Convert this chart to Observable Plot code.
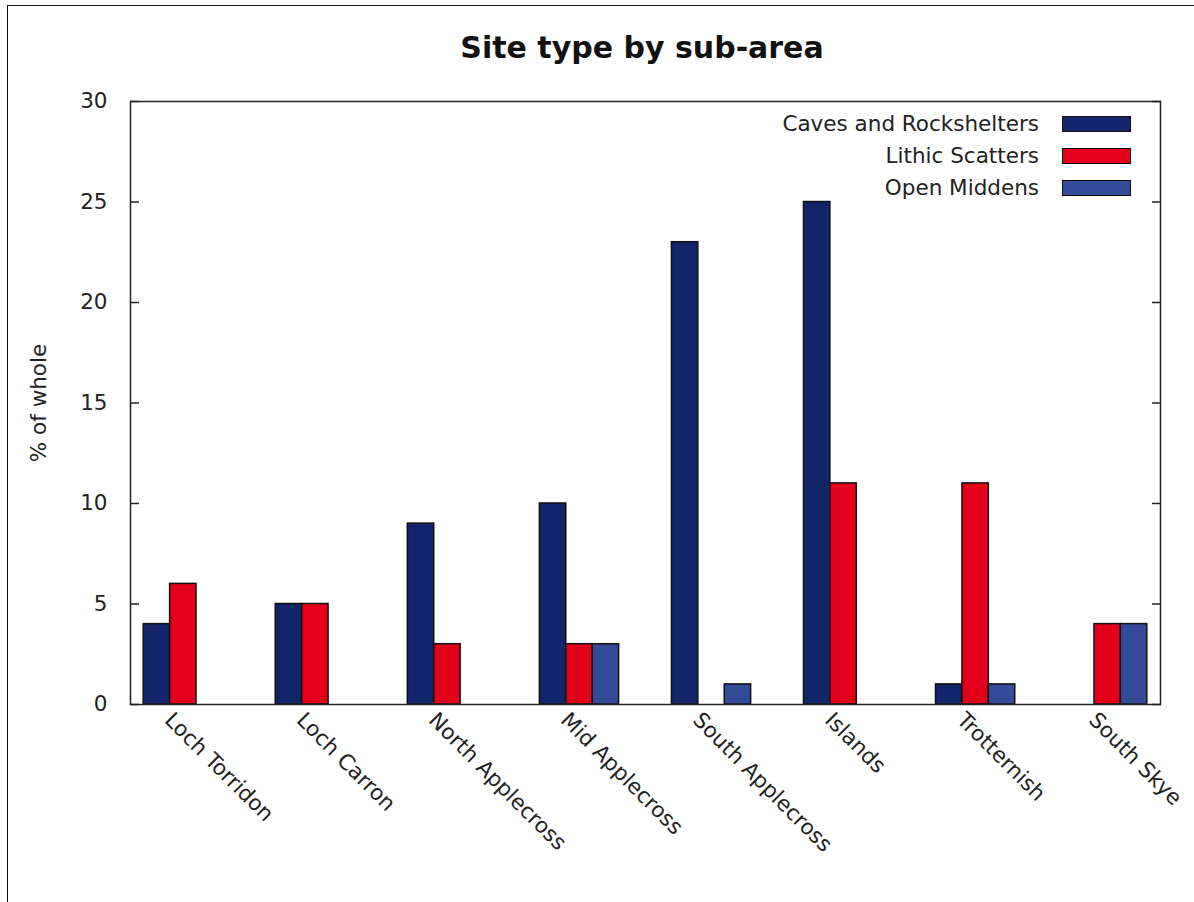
<!DOCTYPE html>
<html>
<head>
<meta charset="utf-8">
<script src="https://cdn.jsdelivr.net/npm/d3@7"></script>
<script src="https://cdn.jsdelivr.net/npm/@observablehq/plot@0.6"></script>
<style>
  html, body { margin: 0; padding: 0; background: #fff; overflow: hidden; }
  body { width: 1194px; height: 902px; position: relative; font-family: "DejaVu Sans", sans-serif; }
  #border { position: absolute; left: 7px; top: 5px; right: 0; bottom: 0; border-left: 1px solid #111; border-top: 1px solid #111; pointer-events: none; }
  #title { width: 1194px; height: 80px; box-sizing: border-box; padding-top: 30px; padding-left: 90px; text-align: center; font-weight: bold; font-size: 30px; line-height: 36px; color: #111; }
  #chart { display: block; }
  .leg-row { position: absolute; height: 32px; line-height: 32px; font-size: 21.5px; color: #222; }
  .leg-text { position: absolute; right: 0; white-space: nowrap; }
  .leg-sw { position: absolute; box-sizing: border-box; border: 1.5px solid #111; }
</style>
</head>
<body>
<div id="border"></div>
<div id="title">Site type by sub-area</div>
<div id="chart"></div>
<script>
// ---- data ----
const categories = ["Loch Torridon", "Loch Carron", "North Applecross", "Mid Applecross", "South Applecross", "Islands", "Trotternish", "South Skye"];
const seriesNames = ["Caves and Rockshelters", "Lithic Scatters", "Open Middens"];
const caves = [4, 5, 9, 10, 23, 25, 1, 0];
const lithic = [6, 5, 3, 3, 0, 11, 11, 4];
const middens = [0, 0, 0, 3, 1, 0, 1, 4];
const yTicks = [0, 5, 10, 15, 20, 25, 30];
const seriesColors = ["#12246a", "#e2001a", "#344b9a"];

const seriesValues = [caves, lithic, middens];
const rows = [];
categories.forEach((c, i) => {
  seriesValues.forEach((vals, s) => {
    rows.push({category: c, index: i, series: seriesNames[s], s, value: vals[i]});
  });
});
const gap = 2;
const barW = 1 / (seriesNames.length + gap);
const mid = (seriesNames.length - 1) / 2;

const plot = Plot.plot({
  width: 1194,
  height: 822,
  marginTop: 21,
  marginBottom: 198,
  marginLeft: 130,
  marginRight: 34,
  style: {fontFamily: "DejaVu Sans, sans-serif", fontSize: "21.5px", color: "#222", background: "transparent", overflow: "visible"},
  x: {domain: [-0.4, categories.length - 0.6], axis: null},
  y: {domain: [0, 30], axis: null},
  color: {domain: seriesNames, range: seriesColors},
  marks: [
    Plot.rectY(rows, {
      filter: d => d.value > 0,
      x1: d => d.index + (d.s - mid) * barW - barW / 2,
      x2: d => d.index + (d.s - mid) * barW + barW / 2,
      y: "value",
      fill: "series",
      stroke: "#111",
      strokeWidth: 1.5
    }),
    Plot.frame({stroke: "#222", strokeWidth: 1.5}),
    Plot.axisY({anchor: "left", ticks: yTicks, tickSize: 0, tickPadding: 23, label: "% of whole", labelArrow: false, labelAnchor: "center", labelOffset: 100, fill: "#222"}),
    Plot.axisY({anchor: "left", ticks: yTicks, tickSize: 9, dx: 9, tickFormat: () => "", label: null, stroke: "#222", strokeWidth: 1.5}),
    Plot.axisY({anchor: "right", ticks: yTicks, tickSize: 9, dx: -9, tickFormat: () => "", label: null, stroke: "#222", strokeWidth: 1.5}),
    Plot.axisX({anchor: "bottom", ticks: categories.map((_, i) => i), tickFormat: i => categories[i], tickSize: 0, tickPadding: 12, tickRotate: 45, dx: -15, label: null, fill: "#222"})
  ]
});
document.getElementById("chart").appendChild(plot);

// legend (inside plot, top right)
seriesNames.forEach((name, i) => {
  const row = document.createElement("div");
  row.className = "leg-row";
  row.style.left = "0px";
  row.style.width = "1039px";
  row.style.top = (108 + i * 32) + "px";
  const t = document.createElement("span");
  t.className = "leg-text";
  t.textContent = name;
  row.appendChild(t);
  document.body.appendChild(row);
  const sw = document.createElement("div");
  sw.className = "leg-sw";
  sw.style.left = "1062px";
  sw.style.top = (116 + i * 32) + "px";
  sw.style.width = "69px";
  sw.style.height = "16px";
  sw.style.background = seriesColors[i];
  document.body.appendChild(sw);
});
</script>
</body>
</html>
